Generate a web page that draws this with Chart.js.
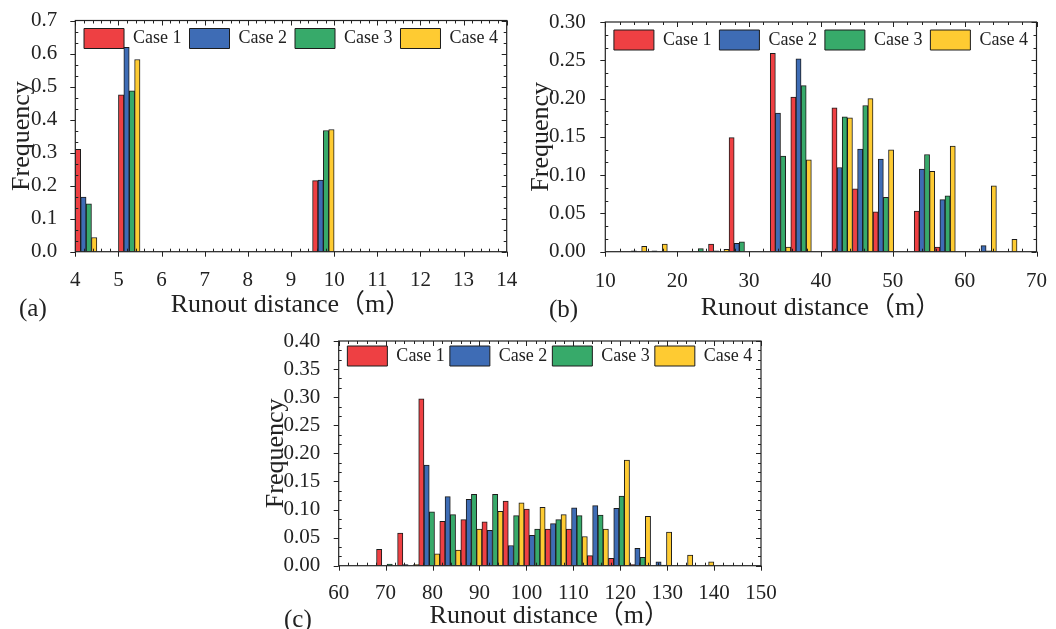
<!DOCTYPE html>
<html><head><meta charset="utf-8">
<script src="https://cdn.jsdelivr.net/npm/chart.js@4.4.1/dist/chart.umd.min.js"></script>
<style>
html,body{margin:0;padding:0;background:#fff;}
body{width:1056px;height:629px;position:relative;overflow:hidden;}
.box{position:absolute;}
.lab{position:absolute;font-size:25px;line-height:25px;color:#222;font-family:"Liberation Serif",serif;}
canvas{display:block;}
</style></head><body>
<div class="box" style="left:0;top:0;width:530px;height:322px"><canvas id="ca" width="530" height="322"></canvas></div>
<div class="box" style="left:520px;top:0;width:536px;height:326px"><canvas id="cb" width="536" height="326"></canvas></div>
<div class="box" style="left:250px;top:320px;width:560px;height:309px"><canvas id="cc" width="560" height="309"></canvas></div>
<div class="lab" style="left:19px;top:295px">(a)</div>
<div class="lab" style="left:549px;top:296px">(b)</div>
<div class="lab" style="left:284px;top:606px">(c)</div>
<script>
// ---------- data ----------
const CASES = ['Case 1', 'Case 2', 'Case 3', 'Case 4'];
const COLORS = ['#EE4043', '#3E6CB5', '#37AA6A', '#FECB32'];

// (a) bin left edges and bin width (m)
const binsA = [4.0, 5.0, 9.5];
const binWidthA = 0.5;
const case1A = [0.310, 0.475, 0.215];
const case2A = [0.165, 0.619, 0.217];
const case3A = [0.145, 0.487, 0.367];
const case4A = [0.043, 0.582, 0.370];

// (b)
const binsB = [12.91, 15.77, 21.50, 24.36, 27.22, 32.95, 35.81, 41.53, 44.39, 47.26, 52.98, 55.84, 61.56, 64.43];
const binWidthB = 2.862;
const case1B = [0,     0,     0,     0.010, 0.149, 0.259, 0.202, 0.188, 0.082, 0.052, 0.053, 0.006, 0,     0];
const case2B = [0.001, 0.001, 0,     0.001, 0.011, 0.181, 0.252, 0.110, 0.134, 0.121, 0.108, 0.068, 0.008, 0];
const case3B = [0,     0,     0.004, 0,     0.013, 0.125, 0.217, 0.176, 0.191, 0.071, 0.127, 0.073, 0.001, 0];
const case4B = [0.007, 0.010, 0,     0.003, 0,     0.006, 0.120, 0.175, 0.200, 0.133, 0.105, 0.138, 0.086, 0.016];

// (c)
const binsC = [68.06, 72.55, 77.05, 81.54, 86.03, 90.53, 95.02, 99.51, 104.01, 108.50, 112.99, 117.49, 121.98, 126.48, 130.97, 135.46];
const binWidthC = 4.494;
const case1C = [0.029, 0.058, 0.297, 0.079, 0.082, 0.078, 0.115, 0.101, 0.065, 0.065, 0.018, 0.013, 0.002, 0,     0,     0];
const case2C = [0,     0.002, 0.179, 0.123, 0.118, 0.063, 0.036, 0.054, 0.075, 0.103, 0.107, 0.102, 0.031, 0.007, 0,     0];
const case3C = [0.003, 0,     0.096, 0.091, 0.127, 0.127, 0.089, 0.065, 0.082, 0.089, 0.090, 0.124, 0.015, 0.001, 0,     0];
const case4C = [0,     0.002, 0.021, 0.028, 0.065, 0.097, 0.112, 0.104, 0.091, 0.052, 0.065, 0.188, 0.088, 0.060, 0.019, 0.007];

// axis ticks
const xTicksA = {min: 4, max: 14, step: 1};
const yTicksA = {min: 0, max: 0.7, step: 0.1, dec: 1};
const xTicksB = {min: 10, max: 70, step: 10};
const yTicksB = {min: 0, max: 0.30, step: 0.05, dec: 2};
const xTicksC = {min: 60, max: 150, step: 10};
const yTicksC = {min: 0, max: 0.40, step: 0.05, dec: 2};

const X_TITLE = 'Runout distance（m）';
const Y_TITLE = 'Frequency';

// ---------- drawing ----------
const FAMILY = '"Liberation Serif", "Noto Sans CJK SC", serif';
const TXT = '#222';

const frameTicks = {
  id: 'frameTicks',
  afterDatasetsDraw(chart, args, o) {
    const {ctx, chartArea: a} = chart;
    const xs = chart.scales.x, ys = chart.scales.y;
    ctx.save();
    ctx.strokeStyle = '#222';
    ctx.lineWidth = 1.2;
    ctx.strokeRect(a.left, a.top, a.right - a.left, a.bottom - a.top);
    ctx.lineWidth = 1;
    ctx.beginPath();
    const M = 5, m = 3;
    const xt = xs.ticks.map(t => t.value);
    const xstep = xt[1] - xt[0];
    xt.forEach((v, i) => {
      const p = Math.round(xs.getPixelForValue(v)) + 0.5;
      ctx.moveTo(p, a.bottom); ctx.lineTo(p, a.bottom + M);
      ctx.moveTo(p, a.top); ctx.lineTo(p, a.top + M);
      if (i < xt.length - 1) for (let k = 1; k < o.xSub; k++) {
        const q = Math.round(xs.getPixelForValue(v + k * xstep / o.xSub)) + 0.5;
        ctx.moveTo(q, a.bottom); ctx.lineTo(q, a.bottom - m);
        ctx.moveTo(q, a.top); ctx.lineTo(q, a.top + m);
      }
    });
    const yt = ys.ticks.map(t => t.value);
    const ystep = yt[1] - yt[0];
    yt.forEach((v, i) => {
      const p = Math.round(ys.getPixelForValue(v)) + 0.5;
      ctx.moveTo(a.left, p); ctx.lineTo(a.left - M, p);
      ctx.moveTo(a.right, p); ctx.lineTo(a.right - M, p);
      if (i < yt.length - 1) for (let k = 1; k < o.ySub; k++) {
        const q = Math.round(ys.getPixelForValue(v + k * ystep / o.ySub)) + 0.5;
        ctx.moveTo(a.left, q); ctx.lineTo(a.left + m, q);
        ctx.moveTo(a.right, q); ctx.lineTo(a.right - m, q);
      }
    });
    ctx.stroke();
    ctx.restore();
  }
};

// legend drawn inside the plot frame (takes no layout height)
const legendInside = {
  id: 'legendInside',
  afterInit(chart) {
    const lg = chart.legend;
    if (!lg || lg._inside) return;
    lg._inside = true;
    const origFit = lg.fit;
    lg.fit = function () { origFit.call(this); this.height = 0; };
    lg.draw = function () { if (this.options.display) this._draw(); };
  }
};

function makeSets(bins, w, series) {
  return series.map((vals, i) => ({
    label: CASES[i],
    data: bins.map((b, j) => ({x: b + (i + 0.5) * w / 4, y: vals[j]})).filter(p => p.y > 0),
    backgroundColor: COLORS[i],
    borderColor: '#1c1c1c',
    borderWidth: 1,
    grouped: false,
    barPercentage: 1,
    categoryPercentage: 1
  }));
}

function makeChart(id, c) {
  new Chart(document.getElementById(id), {
    type: 'bar',
    data: {datasets: makeSets(c.bins, c.w, c.series)},
    options: {
      responsive: false,
      animation: false,
      layout: {padding: c.pad},
      plugins: {
        tooltip: {enabled: false},
        legend: {
          position: 'top', fullSize: false,
          labels: {boxWidth: 40, boxHeight: 20, padding: c.lpad, color: TXT,
                   font: {family: FAMILY, size: 18}}
        },
        frameTicks: {xSub: 5, ySub: 3}
      },
      scales: {
        x: {
          type: 'linear', min: c.xt.min, max: c.xt.max, offset: false,
          grid: {display: false, offset: false}, border: {display: false},
          ticks: {stepSize: c.xt.step, autoSkip: false, maxRotation: 0, padding: c.xpad,
                  color: TXT, font: {family: FAMILY, size: 21}, callback: v => String(v)},
          title: {display: true, text: X_TITLE, color: TXT,
                  font: {family: FAMILY, size: 26, lineHeight: 1},
                  padding: {top: 0, bottom: c.xtp}},
          afterFit: s => { s.height = c.xh; }
        },
        y: {
          min: c.yt.min, max: c.yt.max,
          grid: {display: false}, border: {display: false},
          ticks: {stepSize: c.yt.step, autoSkip: false, padding: c.ypad, color: TXT,
                  font: {family: FAMILY, size: 21, lineHeight: 1}, callback: v => v.toFixed(c.yt.dec)},
          title: {display: true, text: Y_TITLE, color: TXT,
                  font: {family: FAMILY, size: 26, lineHeight: 1},
                  padding: {top: c.ytp, bottom: 0}},
          afterFit: s => { s.width = c.yw; }
        }
      }
    },
    plugins: [frameTicks, legendInside]
  });
}

makeChart('ca', {bins: binsA, w: binWidthA, series: [case1A, case2A, case3A, case4A],
  xt: xTicksA, yt: yTicksA, pad: {left: 0, top: 20, right: 23.3, bottom: 0},
  yw: 75.3, xh: 70.3, xpad: 8.5, ypad: 10, xtp: 4, ytp: 9, lpad: 8});
makeChart('cb', {bins: binsB, w: binWidthB, series: [case1B, case2B, case3B, case4B],
  xt: xTicksB, yt: yTicksB, pad: {left: 0, top: 18.3, right: 16, bottom: 0},
  yw: 85.3, xh: 74.3, xpad: 9, ypad: 11.5, xtp: 5, ytp: 8, lpad: 8});
makeChart('cc', {bins: binsC, w: binWidthC, series: [case1C, case2C, case3C, case4C],
  xt: xTicksC, yt: yTicksC, pad: {left: 0, top: 15, right: 49, bottom: 0},
  yw: 88.7, xh: 63.3, xpad: 7, ypad: 10.5, xtp: 0, ytp: 13, lpad: 5});
</script>
</body></html>
